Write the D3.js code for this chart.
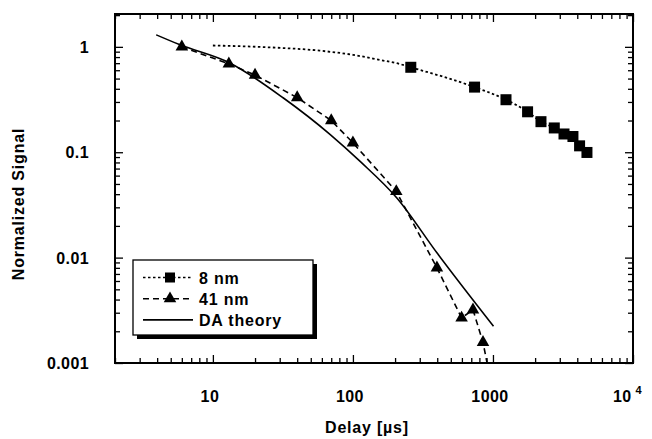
<!DOCTYPE html>
<html>
<head>
<meta charset="utf-8">
<script src="https://cdn.jsdelivr.net/npm/d3@7"></script>
<style>
  body { margin: 0; background: #fff; }
  text { font-family: 'Liberation Sans', Arial, Helvetica, sans-serif; font-weight: bold; fill: #000; }
</style>
</head>
<body>
<div id="chart"></div>
<script>
// 8 nm sample (squares + dotted fit)
const delay8 = [259, 739, 1239, 1767, 2202, 2741, 3216, 3725, 4155, 4690];
const signal8 = [0.64, 0.415, 0.315, 0.242, 0.195, 0.17, 0.149, 0.141, 0.115, 0.0995];
const fitDelay8 = [10, 25, 58, 100, 157, 205];
const fitSignal8 = [1.03, 0.99, 0.92, 0.84, 0.75, 0.70];

// 41 nm sample (triangles + dashed line)
const delay41 = [6, 13, 20, 40, 70, 100, 204, 398, 597, 720, 849];
const signal41 = [1.0, 0.69, 0.54, 0.33, 0.2, 0.123, 0.0425, 0.008, 0.00268, 0.0032, 0.00157];
const tailDelay41 = [905];
const tailSignal41 = [0.00102];

// DA theory curve
const theoryDelay = [3.94, 5.83, 13.3, 31.9, 68.9, 112.6, 206, 398, 1009];
const theorySignal = [1.3, 1.045, 0.7, 0.327, 0.147, 0.0818, 0.0368, 0.0111, 0.00223];

const xMajor = [10, 100, 1000, 10000];
const xLabels = ['10', '100', '1000', '10'];
const yMajor = [1, 0.1, 0.01, 0.001];
const yLabels = ['1', '0.1', '0.01', '0.001'];
const legendLabels = ['8 nm', '41 nm', 'DA theory'];

const W = 652, H = 439;
const plot = { left: 115, right: 633, top: 14, bottom: 363 };

const svg = d3.select('#chart').append('svg').attr('width', W).attr('height', H);

const x = d3.scaleLog().domain([2, 10000]).range([plot.left, plot.right]);
const y = d3.scaleLog().domain([0.001, 2.05]).range([plot.bottom, plot.top]);

// minor ticks 2..9 per decade
function minors(lo, hi) {
  const out = [];
  for (let p = lo; p < hi; p *= 10) {
    for (let k = 2; k <= 9; k++) out.push(p * k);
  }
  return out;
}
const xMinor = minors(1, 10000).filter((v) => v >= 2 && v < 10000 && !xMajor.includes(v));
const yMinor = minors(0.001, 2).filter((v) => v < 2.05);

function tickAxis(gen, scale, values, size, transform) {
  svg.append('g')
    .attr('transform', transform)
    .call(gen(scale).tickValues(values).tickSize(size).tickFormat(''))
    .call((g) => g.select('.domain').remove())
    .selectAll('line').attr('stroke', '#000').attr('stroke-width', 1.3);
}

// inward ticks on all four sides
tickAxis(d3.axisBottom, x, xMajor, -8, `translate(0,${plot.bottom})`);
tickAxis(d3.axisBottom, x, xMinor, -5, `translate(0,${plot.bottom})`);
tickAxis(d3.axisTop, x, xMajor, -8, `translate(0,${plot.top})`);
tickAxis(d3.axisTop, x, xMinor, -5, `translate(0,${plot.top})`);
tickAxis(d3.axisLeft, y, yMajor, -8, `translate(${plot.left},0)`);
tickAxis(d3.axisLeft, y, yMinor, -5, `translate(${plot.left},0)`);
tickAxis(d3.axisRight, y, yMajor, -8, `translate(${plot.right},0)`);
tickAxis(d3.axisRight, y, yMinor, -5, `translate(${plot.right},0)`);

// frame
svg.append('rect')
  .attr('x', plot.left).attr('y', plot.top)
  .attr('width', plot.right - plot.left).attr('height', plot.bottom - plot.top)
  .attr('fill', 'none').attr('stroke', '#000').attr('stroke-width', 2);

// tick labels
svg.selectAll('.ylab').data(yMajor).join('text')
  .attr('class', 'ylab')
  .attr('x', 89).attr('y', (d) => y(d) + 6)
  .attr('text-anchor', 'end').style('font-size', '16px').style('letter-spacing', '0.4px')
  .text((d, i) => yLabels[i]);

svg.selectAll('.xlab').data(xMajor).join('text')
  .attr('class', 'xlab')
  .attr('x', (d, i) => (i === 3 ? x(d) - 20 : x(d) - 3))
  .attr('y', 402)
  .attr('text-anchor', (d, i) => (i === 3 ? 'start' : 'middle'))
  .style('font-size', '16px').style('letter-spacing', '0.4px')
  .text((d, i) => xLabels[i])
  .filter((d, i) => i === 3)
  .append('tspan').attr('dx', 4).attr('dy', -8).style('font-size', '11px').text('4');

// axis titles
svg.append('text')
  .attr('x', 367).attr('y', 433)
  .attr('text-anchor', 'middle').style('font-size', '16px').style('letter-spacing', '0.8px')
  .text('Delay [µs]');

svg.append('text')
  .attr('transform', 'translate(24,204) rotate(-90)')
  .attr('text-anchor', 'middle').style('font-size', '16px').style('letter-spacing', '0.8px')
  .text('Normalized Signal');

const line = d3.line().x((d) => x(d[0])).y((d) => y(d[1]));
const smooth = d3.line().x((d) => x(d[0])).y((d) => y(d[1])).curve(d3.curveMonotoneX);

const pts8 = delay8.map((d, i) => [d, signal8[i]]);
const fit8 = fitDelay8.map((d, i) => [d, fitSignal8[i]]).concat(pts8);
const pts41 = delay41.map((d, i) => [d, signal41[i]]);
const line41 = pts41.concat(tailDelay41.map((d, i) => [d, tailSignal41[i]]));
const theory = theoryDelay.map((d, i) => [d, theorySignal[i]]);

svg.append('path').datum(theory)
  .attr('fill', 'none').attr('stroke', '#000').attr('stroke-width', 1.6)
  .attr('d', smooth);

svg.append('path').datum(line41)
  .attr('fill', 'none').attr('stroke', '#000').attr('stroke-width', 1.6)
  .attr('stroke-dasharray', '6,4')
  .attr('d', line);

svg.append('path').datum(fit8)
  .attr('fill', 'none').attr('stroke', '#000').attr('stroke-width', 1.8)
  .attr('stroke-dasharray', '2.5,2.5')
  .attr('d', smooth);

const tri = d3.symbol().type(d3.symbolTriangle).size(68);
svg.selectAll('.tri').data(pts41).join('path')
  .attr('class', 'tri')
  .attr('transform', (d) => `translate(${x(d[0])},${y(d[1])})`)
  .attr('d', tri).attr('fill', '#000');

svg.selectAll('.sq').data(pts8).join('rect')
  .attr('class', 'sq')
  .attr('x', (d) => x(d[0]) - 5.5).attr('y', (d) => y(d[1]) - 5.5)
  .attr('width', 11).attr('height', 11).attr('fill', '#000');

// legend with drop shadow
const lg = svg.append('g').attr('transform', 'translate(133,260)');
lg.append('rect').attr('x', 4).attr('y', 4).attr('width', 180).attr('height', 75).attr('fill', '#000');
lg.append('rect').attr('x', 0).attr('y', 0).attr('width', 180).attr('height', 75)
  .attr('fill', '#fff').attr('stroke', '#000').attr('stroke-width', 1.3);

const dashes = ['2.5,2.5', '6,4', null];
legendLabels.forEach((label, i) => {
  const yy = 17.5 + i * 21.2;
  const l = lg.append('line').attr('x1', 10).attr('x2', 60).attr('y1', yy).attr('y2', yy)
    .attr('stroke', '#000').attr('stroke-width', 1.6);
  if (dashes[i]) l.attr('stroke-dasharray', dashes[i]);
  if (i === 0) {
    lg.append('rect').attr('x', 32).attr('y', yy - 5).attr('width', 10).attr('height', 10).attr('fill', '#000');
  } else if (i === 1) {
    lg.append('path').attr('transform', `translate(37,${yy})`).attr('d', tri).attr('fill', '#000');
  }
  lg.append('text').attr('x', 66).attr('y', yy + 6)
    .style('font-size', '16px').style('letter-spacing', '0.8px').text(label);
});
</script>
</body>
</html>
